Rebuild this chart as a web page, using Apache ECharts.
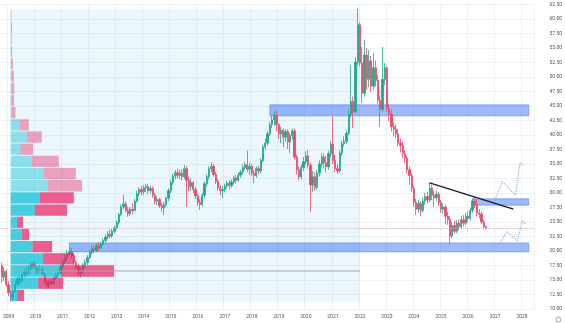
<!DOCTYPE html>
<html>
<head>
<meta charset="utf-8">
<script src="https://cdn.jsdelivr.net/npm/echarts@6/dist/echarts.min.js"></script>
<style>
  html, body { margin: 0; padding: 0; background: #fff; }
  #chart { width: 565px; height: 323px; }
</style>
</head>
<body>
<div id="chart"></div>
<script>
// monthly candles, first one is 2008-10, axis runs on to 2028-06
const firstYear = 2008, firstMonth = 10, monthCount = 237;
const yearTicks = ['2009','2010','2011','2012','2013','2014','2015','2016','2017','2018',
  '2019','2020','2021','2022','2023','2024','2025','2026','2027','2028'];

// [open, close, low, high] per month
const ohlc = [
  // 2008 (Oct-Dec)
  [17.5,15.5,14.5,18.0],[15.5,16.5,14.8,17.2],[16.5,14.2,13.8,16.8],
  // 2009
  [14.2,12.8,12.2,14.8],[12.8,12.0,11.3,13.4],[12.0,13.2,11.3,13.6],[13.2,14.3,12.8,14.8],[14.3,15.2,13.9,15.6],[15.2,14.8,14.2,15.8],
  [14.8,15.9,14.4,16.2],[15.9,16.5,15.4,17.0],[16.5,16.2,15.7,17.3],[16.2,17.0,15.8,17.6],[17.0,17.8,16.6,18.2],[17.8,17.3,16.8,18.4],
  // 2010
  [17.3,16.4,16.0,17.9],[16.4,16.9,15.9,17.4],[16.9,16.8,16.2,17.6],[16.8,16.0,15.7,17.5],[16.0,14.6,14.2,16.2],[14.6,14.0,13.6,15.0],
  [14.0,14.7,13.6,15.0],[14.7,14.4,14.0,15.2],[14.4,15.4,14.2,15.6],[15.4,15.9,15.1,16.3],[15.9,16.2,15.4,16.8],[16.2,17.4,16.0,17.8],
  // 2011
  [17.4,18.2,17.0,18.6],[18.2,18.8,17.8,19.3],[18.8,19.6,18.3,20.2],[19.6,19.9,19.2,20.6],[19.9,19.2,18.8,20.5],[19.2,18.0,17.6,19.6],
  [18.0,17.3,16.7,18.4],[17.3,16.2,15.6,17.8],[16.2,16.6,15.4,17.2],[16.6,17.6,16.0,17.9],[17.6,18.0,17.1,18.6],[18.0,18.9,17.6,19.3],
  // 2012
  [18.9,19.8,18.6,20.2],[19.8,20.4,19.4,20.9],[20.4,20.1,19.6,21.0],[20.1,20.9,19.8,21.3],[20.9,20.5,20.0,21.5],[20.5,21.2,20.2,21.6],
  [21.2,21.8,20.9,22.2],[21.8,22.4,21.4,22.8],[22.4,22.9,22.0,23.4],[22.9,22.6,22.2,23.6],[22.6,23.4,22.2,23.8],[23.4,24.0,23.0,24.4],
  // 2013
  [24.0,24.9,23.7,25.3],[24.9,26.3,24.6,26.6],[26.3,27.6,26.0,28.0],[27.6,28.1,27.2,29.7],[28.1,27.0,26.6,28.6],[27.0,26.4,25.9,27.6],
  [26.4,27.2,26.0,27.6],[27.2,27.0,26.3,28.3],[27.0,28.6,26.8,29.0],[28.6,29.9,28.3,30.4],[29.9,30.6,29.4,31.0],[30.6,30.2,29.6,31.2],
  // 2014
  [30.2,30.9,29.6,31.3],[30.9,31.1,30.2,31.6],[31.1,30.4,29.8,31.6],[30.4,30.8,29.9,31.3],[30.8,29.6,29.2,31.1],[29.6,28.6,28.0,30.0],
  [28.6,28.9,27.9,29.5],[28.9,27.8,27.4,29.2],[27.8,27.4,26.8,28.3],[27.4,28.0,26.2,28.5],[28.0,29.1,27.6,29.4],[29.1,30.4,28.6,30.8],
  // 2015
  [30.4,31.8,30.0,32.2],[31.8,32.9,31.4,33.3],[32.9,33.5,32.4,34.0],[33.5,33.0,32.5,34.2],[33.0,33.4,32.4,34.0],[33.4,32.8,32.2,34.1],
  [32.8,34.2,32.4,34.8],[34.2,32.2,27.6,34.6],[32.2,31.1,30.3,32.8],[31.1,31.8,30.4,32.5],[31.8,30.6,30.0,32.1],[30.6,29.5,29.0,31.0],
  // 2016
  [29.5,28.4,27.8,29.9],[28.4,28.0,27.1,28.9],[28.0,29.6,27.6,30.0],[29.6,31.6,29.2,32.0],[31.6,32.8,31.2,33.2],[32.8,34.2,32.3,34.6],
  [34.2,34.6,33.6,35.3],[34.6,33.2,32.8,35.0],[33.2,32.0,31.5,33.6],[32.0,30.9,30.4,32.4],[30.9,30.4,29.6,31.4],[30.4,30.6,29.1,31.2],
  // 2017
  [30.6,31.2,30.1,31.6],[31.2,31.7,30.8,32.1],[31.7,31.3,30.6,32.2],[31.3,31.9,30.9,32.3],[31.9,32.6,31.5,33.0],[32.6,32.2,31.6,33.1],
  [32.2,33.1,31.9,33.5],[33.1,33.6,32.6,34.0],[33.6,34.4,33.2,34.9],[34.4,34.9,34.0,35.4],[34.9,34.1,33.6,37.3],[34.1,34.6,33.1,35.2],
  // 2018
  [34.6,33.4,32.9,35.0],[33.4,33.0,31.7,33.9],[33.0,34.2,32.6,34.6],[34.2,33.8,33.2,34.7],[33.8,35.6,33.4,36.0],[35.6,37.9,35.3,38.3],
  [37.9,38.6,37.4,39.4],[38.6,40.2,38.2,40.7],[40.2,41.8,39.8,42.3],[41.8,42.6,41.2,43.5],[42.6,43.4,41.6,44.2],[43.4,41.8,40.6,44.2],
  // 2019
  [41.8,40.2,39.3,42.0],[40.2,40.8,38.6,41.4],[40.8,39.6,37.9,41.2],[39.6,40.6,38.8,41.0],[40.6,38.8,37.6,41.0],[38.8,39.9,36.9,40.3],
  [39.9,40.7,39.2,41.1],[40.7,36.2,35.8,41.1],[36.2,34.0,33.2,36.6],[34.0,32.8,32.2,34.6],[32.8,34.4,32.4,35.0],[34.4,35.4,33.8,36.2],
  // 2020
  [35.4,36.4,34.9,37.2],[36.4,34.8,34.2,37.4],[34.8,31.4,26.7,35.2],[31.4,32.8,30.2,33.8],[32.8,31.0,30.4,33.6],[31.0,33.4,30.6,34.0],
  [33.4,35.0,32.8,35.6],[35.0,36.2,34.4,36.8],[36.2,35.2,34.2,36.8],[35.2,34.5,33.6,36.4],[34.5,36.8,34.0,37.3],[36.8,38.4,36.2,39.0],
  // 2021
  [38.4,35.6,35.0,43.2],[35.6,34.2,33.6,36.6],[34.2,33.8,33.3,35.0],[33.8,36.9,33.5,37.4],[36.9,38.5,36.4,39.0],[38.5,38.9,38.0,39.8],
  [38.9,40.3,38.4,40.8],[40.3,43.6,40.0,44.4],[43.6,45.8,43.0,52.0],[45.8,44.0,41.2,46.6],[44.0,52.6,43.8,53.4],[52.6,59.0,52.0,61.8],
  // 2022
  [59.0,52.4,51.8,59.4],[52.4,47.2,45.5,55.2],[47.2,53.8,46.6,56.4],[53.8,49.6,47.8,55.0],[49.6,52.8,48.2,54.6],[52.8,48.4,47.4,53.6],
  [48.4,51.6,47.8,54.2],[51.6,49.4,48.4,52.8],[49.4,46.0,45.4,50.4],[46.0,44.4,41.4,46.8],[44.4,49.6,44.0,55.2],[49.6,51.6,48.6,52.4],
  // 2023
  [51.6,44.6,44.0,51.8],[44.6,43.6,42.4,45.4],[43.6,41.4,40.6,44.4],[41.4,41.0,39.8,42.2],[41.0,40.2,39.4,41.8],[40.2,38.6,38.0,41.0],
  [38.6,38.2,37.0,39.4],[38.2,36.8,36.0,38.8],[36.8,36.0,35.2,37.4],[36.0,34.0,33.4,36.4],[34.0,33.0,31.4,34.6],[33.0,30.8,30.2,33.4],
  // 2024
  [30.8,28.4,27.6,31.2],[28.4,27.2,26.2,29.0],[27.2,28.2,26.6,28.8],[28.2,27.0,26.0,28.6],[27.0,28.6,26.6,29.2],[28.6,29.4,28.0,30.0],
  [29.4,28.8,28.2,30.2],[28.8,30.8,28.4,31.8],[30.8,29.6,28.8,31.4],[29.6,29.2,27.6,30.4],[29.2,29.8,28.6,30.4],[29.8,28.4,27.8,30.2],
  // 2025
  [28.4,27.2,26.6,28.8],[27.2,27.6,26.4,28.2],[27.6,26.0,24.6,28.0],[26.0,25.4,24.5,26.8],[25.4,22.6,21.2,26.0],[22.6,24.4,22.2,25.0],
  [24.4,23.4,23.0,25.2],[23.4,24.8,23.1,25.3],[24.8,24.2,23.6,25.4],[24.2,25.4,23.8,26.0],[25.4,24.8,24.2,26.2],[24.8,26.0,24.4,26.6],
  // 2026 (Jan-Sep)
  [26.0,25.6,25.0,26.8],[25.6,27.0,25.2,27.4],[27.0,28.6,26.6,29.0],[28.6,28.0,27.4,29.3],[28.0,26.6,26.0,28.8],[26.6,26.4,25.6,27.2],
  [26.4,25.0,24.6,26.8],[25.0,24.2,23.8,25.4],[24.2,24.0,23.7,24.4]
];

const lastPrice = 23.95;

// zones: [from month, to month, low, high]
const zones = [
  ['2018-09', '2028-04', 43.3, 45.2],
  ['2011-04', '2028-04', 19.85, 21.4],
  ['2026-03', '2028-04', 27.9, 29.0]
];

// fixed range volume profile (2009-02 .. 2022-01), 24 rows from 11.3 to 61.7
const vpLow = 11.3, vpHigh = 61.7, vpRowSize = 2.1;
const vpFrom = 2009.1, vpTo = 2022.0;
const vpUp   = [6.6, 27.6, 50.3, 32.6, 22, 11.3, 6.6, 24.3, 29.3, 37, 33.6, 21.3, 10, 16.6, 9.3,
                1.2, 0.8, 1.0, 0.8, 0.6, 0.4, 0.4, 0.5, 0.3];
const vpDown = [7, 25, 53.3, 30.7, 19.6, 7.3, 6, 32.3, 34, 34.6, 31.7, 27, 12.6, 14.7, 9,
                3.8, 2.8, 2.8, 2.6, 1.8, 1.2, 0.8, 1.1, 0.7];
const vpValueAreaRows = 9;
const pocPrice = 16.55;

// drawings, x in decimal years
const trendLine = [[2024.58, 31.76], [2027.68, 27.24]];
const pathHigh = [[2027.02, 29.1], [2027.28, 31.95], [2027.75, 29.65], [2027.93, 35.2], [2028.06, 34.8]];
const pathLow  = [[2027.18, 21.3], [2027.44, 23.3], [2027.83, 21.8], [2028.01, 25.2], [2028.12, 24.7]];

// build month categories
const months = [];
for (let i = 0; i < monthCount; i++) {
  const m = firstMonth - 1 + i;
  const y = firstYear + Math.floor(m / 12);
  months.push(y + '-' + String(m % 12 + 1).padStart(2, '0'));
}
const isYearStart = (idx, val) => val.slice(5) === '01' && yearTicks.includes(val.slice(0, 4));

// price scale layout
const yMin = 10, yMax = 62.5, gridTop = 4.5, gridBottom = 14, gridRight = 30;
const pxPerUnit = (323 - gridTop - gridBottom) / (yMax - yMin);
const vpRows = vpUp.map((_, i) => (vpLow + i * vpRowSize).toFixed(1));

const chart = echarts.init(document.getElementById('chart'), null, { renderer: 'canvas' });

const labelStyle = { fontFamily: 'Roboto', fontSize: 5, color: '#555' };

const option = {
  backgroundColor: '#ffffff',
  animation: false,
  grid: [
    { left: 0, right: gridRight, top: gridTop, bottom: gridBottom },
    {
      left: 10.5, width: 200,
      top: gridTop + (yMax - vpHigh) * pxPerUnit,
      height: (vpHigh - vpLow) * pxPerUnit
    }
  ],
  xAxis: [
    {
      type: 'category', gridIndex: 0, data: months, boundaryGap: true,
      axisLine: { show: false }, axisTick: { show: false },
      axisLabel: Object.assign({ interval: isYearStart, margin: 5, formatter: v => v.slice(0, 4) }, labelStyle),
      splitLine: { show: true, interval: isYearStart, lineStyle: { color: '#eef1f5', width: 1 } }
    },
    {
      type: 'value', gridIndex: 0, show: false, position: 'top',
      min: firstYear + (firstMonth - 1) / 12 - 0.5 / 12,
      max: firstYear + (firstMonth - 1) / 12 + (monthCount - 0.5) / 12
    },
    { type: 'value', gridIndex: 1, show: false, min: 0, max: 200 }
  ],
  yAxis: [
    {
      type: 'value', gridIndex: 0, position: 'right', min: yMin, max: yMax, interval: 2.5,
      axisLine: { show: false }, axisTick: { show: false },
      axisLabel: Object.assign({ margin: 15, formatter: v => v.toFixed(2) }, labelStyle),
      splitLine: { lineStyle: { color: '#eef1f5', width: 1 } }
    },
    { type: 'category', gridIndex: 1, show: false, data: vpRows }
  ],
  series: [
    {
      // range background of the volume profile
      type: 'line', xAxisIndex: 1, yAxisIndex: 0, data: [], z: 1, silent: true,
      markArea: {
        silent: true,
        itemStyle: { color: 'rgba(0,150,220,0.075)' },
        data: [[{ xAxis: vpFrom, yAxis: vpHigh }, { xAxis: vpTo, yAxis: vpLow }]]
      }
    },
    {
      type: 'candlestick', xAxisIndex: 0, yAxisIndex: 0, data: ohlc, barWidth: '78%',
      itemStyle: { color: '#1fa78b', color0: '#ec4867', borderColor: '#1fa78b', borderColor0: '#ec4867', borderWidth: 0.8 },
      markArea: {
        silent: true,
        itemStyle: { color: 'rgba(45,100,250,0.45)', borderColor: 'rgba(45,100,250,0.55)', borderWidth: 0.8 },
        data: zones.map(z => [{ xAxis: z[0], yAxis: z[3] }, { xAxis: z[1], yAxis: z[2] }])
      },
      markLine: {
        silent: true, symbol: 'none', label: { show: false },
        lineStyle: { color: '#e9a3b5', type: 'dotted', width: 1 },
        data: [{ yAxis: lastPrice }]
      }
    },
    {
      type: 'line', xAxisIndex: 1, yAxisIndex: 0, data: [[vpFrom, pocPrice], [vpTo, pocPrice]],
      symbol: 'none', silent: true, lineStyle: { color: '#a7a7a7', width: 1 }, z: 4
    },
    {
      type: 'line', xAxisIndex: 1, yAxisIndex: 0, data: trendLine, symbol: 'none', silent: true,
      lineStyle: { color: '#1c1c1c', width: 1.3 }, z: 5
    },
    {
      type: 'line', xAxisIndex: 1, yAxisIndex: 0, data: pathHigh, symbol: 'none', silent: true,
      lineStyle: { color: '#7aaee3', width: 1.1, type: 'dotted' }, z: 5
    },
    {
      type: 'line', xAxisIndex: 1, yAxisIndex: 0, data: pathLow, symbol: 'none', silent: true,
      lineStyle: { color: '#7aaee3', width: 1.1, type: 'dotted' }, z: 5
    },
    {
      type: 'bar', xAxisIndex: 2, yAxisIndex: 1, stack: 'vp', data: vpUp, barCategoryGap: '7%', silent: true, z: 3,
      itemStyle: { color: p => p.dataIndex < vpValueAreaRows ? 'rgba(0,188,212,0.7)' : 'rgba(0,188,212,0.4)' }
    },
    {
      type: 'bar', xAxisIndex: 2, yAxisIndex: 1, stack: 'vp', data: vpDown, barCategoryGap: '7%', silent: true, z: 3,
      itemStyle: { color: p => p.dataIndex < vpValueAreaRows ? 'rgba(233,30,99,0.7)' : 'rgba(233,30,99,0.4)' }
    }
  ],
  graphic: [
    { type: 'circle', left: 553.5, top: 314.5, shape: { r: 2.5 }, style: { fill: 'none', stroke: '#888', lineWidth: 0.8 } }
  ]
};

chart.setOption(option);
</script>
</body>
</html>
